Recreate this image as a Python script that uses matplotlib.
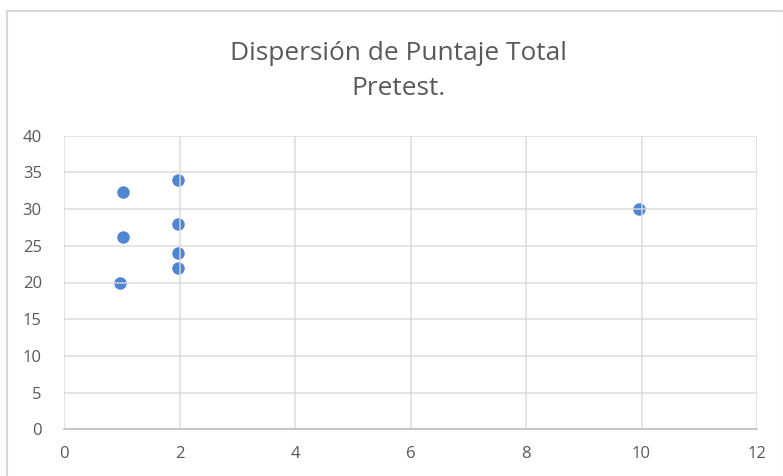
import matplotlib
matplotlib.use("Agg")
import matplotlib.pyplot as plt
from matplotlib.patches import Rectangle

x_vals = [0.97, 1.03, 1.03, 1.98, 1.98, 1.98, 1.98, 9.96]
y_vals = [20, 26.2, 32.3, 34, 28, 24, 22, 30]
x_ticks = [0, 2, 4, 6, 8, 10, 12]
y_ticks = [0, 5, 10, 15, 20, 25, 30, 35, 40]
title_text = "Dispersión de Puntaje Total\nPretest."

W, H = 783, 476
fig = plt.figure(figsize=(W / 100, H / 100), dpi=100)
fig.patch.set_facecolor("white")

# outer chart border
fig.patches.append(Rectangle((7 / W, -0.05), (W - 6) / W, 1 - 11 / H + 0.05,
                             transform=fig.transFigure, fill=False,
                             edgecolor="#d9d9d9", linewidth=1.5))

ax = fig.add_axes([64 / W, 1 - 429.3 / H, (757 - 64) / W, (429.3 - 135.7) / H])
ax.scatter(x_vals, y_vals, s=9.0 ** 2, color="#4F86D4", zorder=2, linewidths=0)
ax.set_xlim(0, 12)
ax.set_ylim(0, 40)
ax.set_xticks(x_ticks)
ax.set_yticks(y_ticks)
ax.grid(True, color="#d9d9d9", linewidth=1.2, zorder=3, alpha=0.85)
ax.set_axisbelow(False)
for s in ["top", "right", "left"]:
    ax.spines[s].set_visible(False)
ax.spines["bottom"].set_color("#bfbfbf")
ax.spines["bottom"].set_linewidth(1.2)
ax.spines["bottom"].set_zorder(4)
ax.tick_params(length=0, labelsize=12, labelcolor="#595959")
ax.tick_params(axis="y", pad=16)
ax.tick_params(axis="x", pad=12)
for lbl in ax.get_xticklabels() + ax.get_yticklabels():
    lbl.set_family("Open Sans")

fig.text(398 / W, 1 - 71 / H, title_text, ha="center", va="center",
         fontsize=18.9, color="#595959", family="Open Sans", linespacing=1.5)

fig.savefig("out.png", dpi=100)
